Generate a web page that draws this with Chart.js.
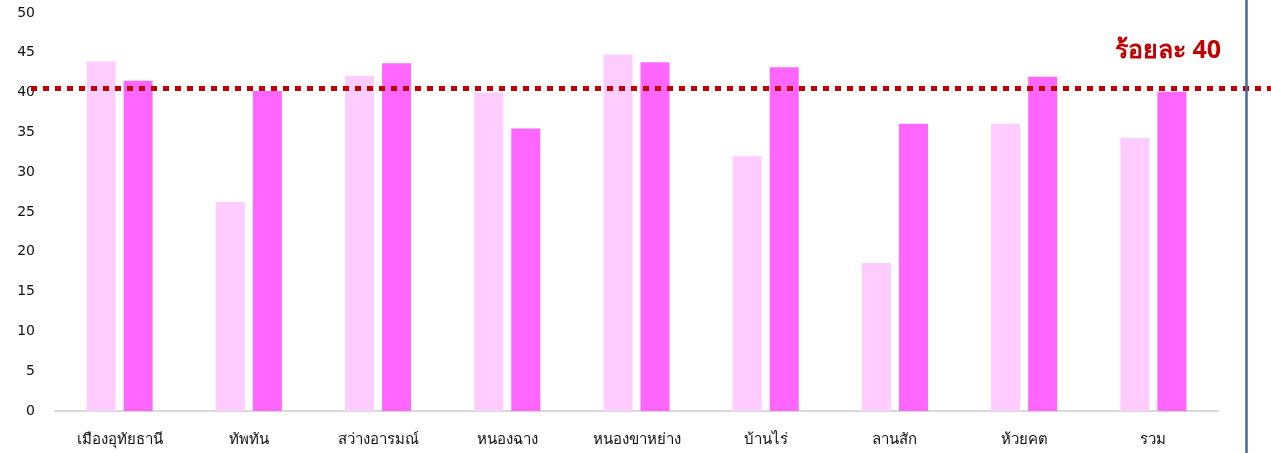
<!DOCTYPE html>
<html><head><meta charset="utf-8">
<script src="https://cdn.jsdelivr.net/npm/chart.js@4"></script>
<style>html,body{margin:0;padding:0;background:#fff}#wrap{width:1271px;height:453px}</style>
</head><body><div id="wrap"><canvas id="c"></canvas></div>
<script>
const categories = ['เมืองอุทัยธานี','ทัพทัน','สว่างอารมณ์','หนองฉาง','หนองขาหย่าง','บ้านไร่','ลานสัก','ห้วยคต','รวม'];
const seriesA = [43.9, 26.3, 42.1, 40.0, 44.8, 32.0, 18.6, 36.1, 34.3];
const seriesB = [41.5, 40.2, 43.7, 35.5, 43.8, 43.2, 36.1, 42.0, 40.1];
const threshold = 40.5;
const thresholdLabel = 'ร้อยละ 40';
const yTicks = [0,5,10,15,20,25,30,35,40,45,50];

const overlay = {
  id:'overlay',
  afterDatasetsDraw(chart){
    const {ctx, chartArea, scales:{y}} = chart;
    const py = y.getPixelForValue(threshold);
    ctx.save();
    ctx.strokeStyle = '#c00000';
    ctx.lineWidth = 5;
    ctx.setLineDash([6,6]);
    ctx.beginPath();
    ctx.moveTo(31, py);
    ctx.lineTo(chart.width, py);
    ctx.stroke();
    ctx.setLineDash([]);
    ctx.fillStyle = '#c00000';
    ctx.font = 'bold 25px "Noto Sans", "DejaVu Sans", sans-serif';
    ctx.textAlign = 'right';
    ctx.textBaseline = 'middle';
    ctx.fillText(thresholdLabel, chartArea.right + 3, py - 38);
    ctx.strokeStyle = '#4a67a3';
    ctx.lineWidth = 2.5;
    ctx.beginPath();
    const bx = chartArea.right + 28.5;
    ctx.moveTo(bx, 0);
    ctx.lineTo(bx, chart.height);
    ctx.stroke();
    ctx.restore();
  }
};

new Chart(document.getElementById('c'), {
  type:'bar',
  data:{
    labels: categories,
    datasets:[
      {data: seriesA, backgroundColor:'#ffccff', categoryPercentage:0.573, barPercentage:0.784},
      {data: seriesB, backgroundColor:'#ff66ff', categoryPercentage:0.573, barPercentage:0.784}
    ]
  },
  options:{
    responsive:true, maintainAspectRatio:false, animation:false,
    layout:{padding:{top:13,right:53,bottom:0,left:0}},
    plugins:{legend:{display:false}, tooltip:{enabled:false}},
    scales:{
      x:{
        grid:{display:false, drawTicks:false},
        border:{color:'#d9d9d9', width:2},
        ticks:{color:'#111', padding:20, maxRotation:0, autoSkip:false,
          font:{size:15, family:'"Noto Sans", "DejaVu Sans", sans-serif'}},
        afterFit(s){ s.height = 42; s.paddingLeft = 0; s.paddingRight = 0; }
      },
      y:{
        min:0, max:50,
        afterBuildTicks(s){ s.ticks = yTicks.map(v=>({value:v})); },
        grid:{display:false, drawTicks:false},
        border:{display:false},
        ticks:{color:'#111', padding:20,
          font:{size:14, family:'"DejaVu Sans", sans-serif'}},
        afterFit(s){ s.width = 55; s.paddingTop = 0; s.paddingBottom = 0; }
      }
    }
  },
  plugins:[overlay]
});
</script></body></html>
